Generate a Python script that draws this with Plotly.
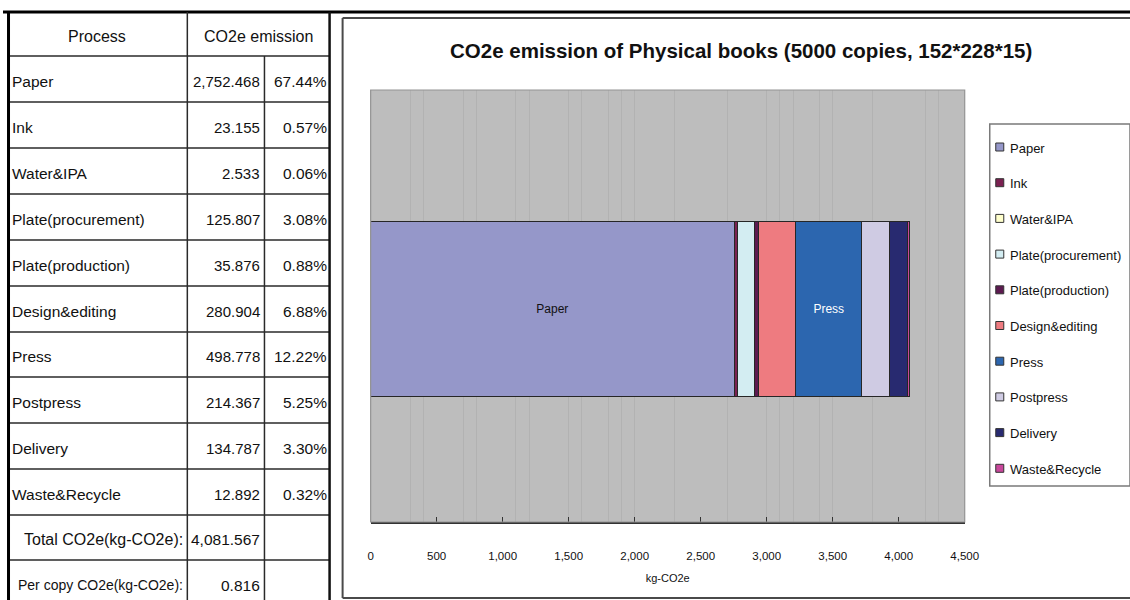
import plotly.graph_objects as go

# ---------------- data ----------------
processes = ["Paper", "Ink", "Water&IPA", "Plate(procurement)", "Plate(production)",
             "Design&editing", "Press", "Postpress", "Delivery", "Waste&Recycle"]
emissions = [2752.468, 23.155, 2.533, 125.807, 35.876, 280.904, 498.778, 214.367, 134.787, 12.892]
shares = [67.44, 0.57, 0.06, 3.08, 0.88, 6.88, 12.22, 5.25, 3.30, 0.32]
total_co2e = 4081.567
per_copy_co2e = 0.816
bar_labels = ["Paper", "", "", "", "", "", "Press", "", "", ""]
x_ticks = [0, 500, 1000, 1500, 2000, 2500, 3000, 3500, 4000, 4500]

colors = ["#9597C9", "#7A2151", "#FFFFCC", "#D3EDF2", "#5C1A50",
          "#EE7B80", "#2C66AF", "#CFCBE3", "#282A70", "#C8479B"]
label_colors = ["#111111", "#111111", "#111111", "#111111", "#111111",
                "#111111", "#FFFFFF", "#111111", "#111111", "#111111"]

REF_W, H = 1130, 600
FIG_W = 1145
FONT = "Liberation Sans"


def px(x):
    # map a position in the 1130-px picture to a paper fraction
    return min(1.0, max(0.0, (x - 3) / 1126))


def py(y):
    return 1 - y / H


fig = go.Figure()

for name, val, col, lab, lc in zip(processes, emissions, colors, bar_labels, label_colors):
    fig.add_trace(go.Bar(
        x=[val], y=[0], orientation="h", name=name,
        marker=dict(color=col, line=dict(color="#262626", width=1)),
        width=0.403,
        text=[lab] if lab else None,
        textposition="inside" if lab else "none",
        insidetextanchor="middle",
        textfont=dict(color=lc, size=12, family=FONT),
        showlegend=False,
        hoverinfo="x+name",
    ))

shapes = []
annotations = []


def hline(x0, x1, y, color, width):
    shapes.append(dict(type="line", xref="paper", yref="paper",
                       x0=px(x0), x1=px(x1), y0=py(y), y1=py(y),
                       line=dict(color=color, width=width)))


def vline(x, y0, y1, color, width):
    shapes.append(dict(type="line", xref="paper", yref="paper",
                       x0=px(x), x1=px(x), y0=py(y0), y1=py(y1),
                       line=dict(color=color, width=width)))


# ---- outer frame lines ----
hline(0, REF_W, 12, "#000000", 3)

# chart box (right edge runs off the picture)
hline(342, REF_W + 10, 18, "#4a4a4a", 2)
hline(342, REF_W + 10, 598, "#4a4a4a", 2)
vline(342, 18, 598, "#4a4a4a", 2)

# plot-area border
shapes.append(dict(type="rect", xref="paper", yref="paper",
                   x0=px(370), x1=px(963), y0=py(522), y1=py(90),
                   line=dict(color="#939393", width=1.2), layer="above"))

# ---- table ----
row_bounds = [12, 56, 102, 148, 194, 240, 286, 332, 377, 423, 469, 515, 560, 600]
for yb in row_bounds[1:-1]:
    hline(8, 329, yb, "#2a2a2a", 1.5)
vline(8.5, 12, H, "#000000", 3)
vline(329, 12, H, "#111111", 2.5)
vline(187, 12, H, "#2a2a2a", 1.5)
vline(264, 56, H, "#2a2a2a", 1.5)


def txt(x, y, s, anchor="left", size=15, color="#111111"):
    annotations.append(dict(xref="paper", yref="paper", x=px(x), y=py(y), text=s,
                            showarrow=False, xanchor=anchor, yanchor="middle",
                            font=dict(family=FONT, size=size, color=color)))


txt(97, 36, "Process", "center", 16)
txt(258, 36, "CO2e emission", "center", 16)
for i, (name, val, sh) in enumerate(zip(processes, emissions, shares)):
    yc = (row_bounds[i + 1] + row_bounds[i + 2]) / 2 + 2
    txt(10, yc, name, "left", 15.5)
    txt(262, yc, f"{val:,.3f}", "right", 15)
    txt(328, yc, f"{sh:.2f}%", "right", 15.5)
txt(185, 539, "Total CO2e(kg-CO2e):", "right", 16)
txt(262, 539, f"{total_co2e:,.3f}", "right", 15.5)
txt(185, 585, "Per copy CO2e(kg-CO2e):", "right", 14)
txt(262, 585, f"{per_copy_co2e:,.3f}", "right", 15.5)

# ---- chart title ----
annotations.append(dict(xref="paper", yref="paper", x=px(740), y=py(50),
                        text="<b>CO2e emission of Physical books (5000 copies, 152*228*15)</b>",
                        showarrow=False, xanchor="center", yanchor="middle",
                        font=dict(family=FONT, size=20.5, color="#111111")))

# ---- legend (drawn) ----
shapes.append(dict(type="rect", xref="paper", yref="paper",
                   x0=px(988), x1=px(1128), y0=py(486), y1=py(124),
                   line=dict(color="#7a7a7a", width=1.5), fillcolor="white"))
for i, (name, col) in enumerate(zip(processes, colors)):
    yc = 147 + i * 35.7
    shapes.append(dict(type="rect", xref="paper", yref="paper",
                       x0=px(994), x1=px(1002), y0=py(yc + 4), y1=py(yc - 4),
                       line=dict(color="#333333", width=1), fillcolor=col))
    txt(1006, yc + 1, name, "left", 13)

fig.update_layout(
    width=FIG_W, height=H,
    autosize=False,
    margin=dict(l=0, r=0, t=0, b=0),
    paper_bgcolor="white",
    plot_bgcolor="#bdbdbd",
    barmode="stack",
    showlegend=False,
    shapes=shapes,
    annotations=annotations,
    xaxis=dict(
        domain=[px(370), px(963)],
        range=[0, 4500],
        tickvals=x_ticks,
        tickformat=",d",
        ticks="inside", ticklen=5, tickcolor="#333333", tickwidth=1.2,
        showline=True, linecolor="#333333", linewidth=1.5,
        showgrid=False, zeroline=False,
        ticklabelstandoff=22,
        tickfont=dict(family=FONT, size=11.5, color="#111111"),
        title=dict(text="kg-CO2e", standoff=14,
                   font=dict(family=FONT, size=11, color="#111111")),
        minor=dict(tickvals=[300, 400, 700, 800, 1100, 1200, 1500, 1600, 1800, 1900,
                             2000, 2300, 2700, 3000, 3100, 3200, 3400, 3500, 3800,
                             4200, 4300],
                   showgrid=True, gridcolor="#b2b2b2", gridwidth=1, ticks=""),
        fixedrange=True,
    ),
    yaxis=dict(
        domain=[py(522), py(90)],
        range=[-0.493, 0.507],
        visible=False,
        fixedrange=True,
    ),
)

fig.write_html(
    "out.html",
    config={"displayModeBar": False, "responsive": False},
    post_script=(
        "document.body.style.margin='0';"
        "document.body.style.overflow='hidden';"
    ),
)
